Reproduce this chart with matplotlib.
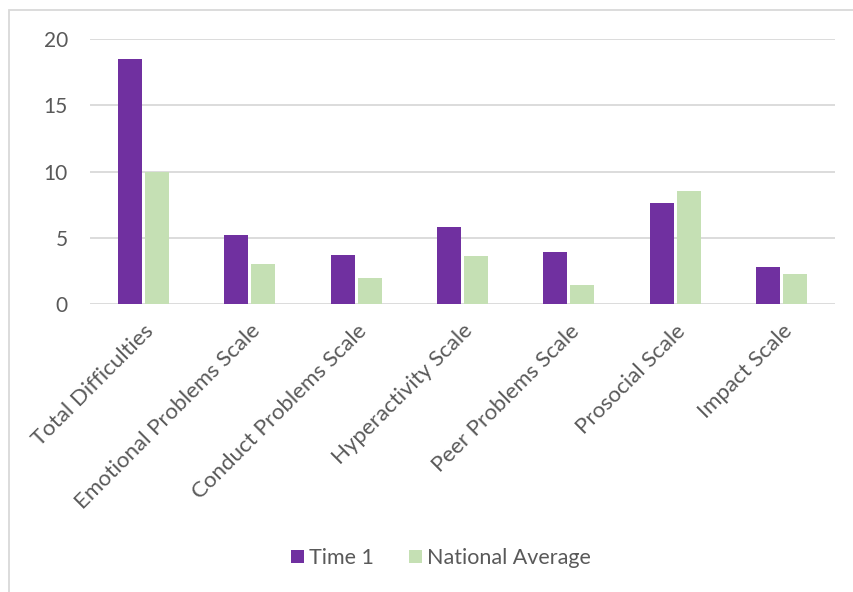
import matplotlib
matplotlib.use("Agg")
import matplotlib.pyplot as plt
import numpy as np
from matplotlib.patches import Rectangle

categories = ["Total Difficulties", "Emotional Problems Scale", "Conduct Problems Scale",
              "Hyperactivity Scale", "Peer Problems Scale", "Prosocial Scale", "Impact Scale"]
time1 = [18.5, 5.2, 3.7, 5.8, 3.9, 7.6, 2.8]
national_avg = [10.0, 3.0, 2.0, 3.6, 1.4, 8.5, 2.3]
y_ticks = [0, 5, 10, 15, 20]

purple = "#7030A0"
green = "#C5E0B4"
text_col = "#595959"
grid_col = "#D9D9D9"

plt.rcParams["font.family"] = ["Lato", "DejaVu Sans"]

fig = plt.figure(figsize=(8.54, 5.92), dpi=100)
ax = fig.add_axes([90 / 854, 1 - 304 / 592, 745 / 854, 265 / 592])

x = np.arange(len(categories))
w = 0.225
gap = 0.028
ax.bar(x - (w + gap) / 2, time1, width=w, color=purple, label="Time 1", zorder=3)
ax.bar(x + (w + gap) / 2, national_avg, width=w, color=green, label="National Average", zorder=3)

ax.set_xlim(-0.5, len(categories) - 0.5)
ax.set_ylim(0, 20)
ax.set_yticks(y_ticks)
ax.set_yticklabels([str(t) for t in y_ticks], fontsize=15, color=text_col)
ax.yaxis.grid(True, color=grid_col, linewidth=1.3, zorder=0)
ax.set_axisbelow(True)
for s in ax.spines.values():
    s.set_visible(False)
ax.tick_params(axis="both", length=0)
ax.tick_params(axis="y", pad=16)

ax.set_xticks(x)
ax.set_xticklabels(categories, rotation=45, ha="right", rotation_mode="anchor",
                   fontsize=16, color=text_col)
ax.tick_params(axis="x", pad=12)

fig.legend(loc="center", bbox_to_anchor=(441 / 854, 1 - 558 / 592), ncol=2, frameon=False,
           fontsize=15.5, labelcolor=text_col, handlelength=0.6, handleheight=0.6,
           handletextpad=0.25, columnspacing=1.6)

# chart frame, running off the right and bottom edges of the canvas
fig.patches.append(Rectangle((8.5 / 854, -10 / 592), 860 / 854, (592 - 9.5 + 10) / 592,
                             transform=fig.transFigure, fill=False,
                             edgecolor=grid_col, linewidth=1.3))

fig.savefig("out.png", dpi=100, facecolor="white")
